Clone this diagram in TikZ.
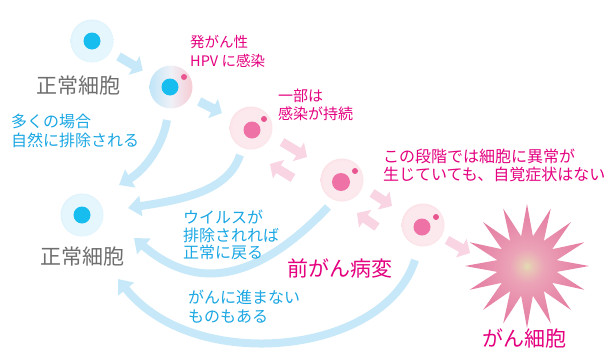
\documentclass[tikz,border=0pt]{standalone}
\usepackage{fontspec}
\setmainfont{Noto Sans CJK JP}
\usetikzlibrary{arrows.meta,shapes.geometric,calc}

\definecolor{txtmag}{HTML}{E4007F}
\definecolor{txtblue}{HTML}{1AA7E3}
\definecolor{txtgray}{HTML}{6E6E6E}
\definecolor{flowblue}{HTML}{C7E8F8}
\definecolor{flowpink}{HTML}{F9D4E3}
\definecolor{nucblue}{HTML}{17BDEF}
\definecolor{nucpink}{HTML}{EE72A6}
\definecolor{dotpink}{HTML}{E8558F}
\definecolor{blueA}{HTML}{E6F6FD}
\definecolor{blueB}{HTML}{C0E5F8}
\definecolor{blueC}{HTML}{CBEAF9}
\definecolor{pinkA}{HTML}{FCE9ED}
\definecolor{pinkB}{HTML}{F7C2CC}
\definecolor{pinkC}{HTML}{F6CBD4}
\definecolor{starA}{HTML}{E2DDB2}
\definecolor{starB}{HTML}{E8C6B6}
\definecolor{starC}{HTML}{EBA3B7}
\definecolor{starD}{HTML}{E88FAD}
\definecolor{starE}{HTML}{E26C98}

% soft-edged cell bodies
\pgfdeclareradialshading{healthycell}{\pgfpoint{0bp}{0bp}}{%
  color(0bp)=(blueA); color(22bp)=(blueA); color(40bp)=(blueB);
  color(46bp)=(blueC); color(50bp)=(white); color(72bp)=(white)}
\pgfdeclareradialshading{lesioncell}{\pgfpoint{0bp}{0bp}}{%
  color(0bp)=(pinkA); color(22bp)=(pinkA); color(40bp)=(pinkB);
  color(46bp)=(pinkC); color(50bp)=(white); color(72bp)=(white)}
\pgfdeclareradialshading{tumour}{\pgfpoint{0bp}{0bp}}{%
  color(0bp)=(starA); color(2bp)=(starB); color(7bp)=(starC);
  color(15bp)=(starD); color(32bp)=(starE); color(72bp)=(starE)}

\tikzset{
  cellbody/.style={circle, minimum size=43pt, inner sep=0pt},
  flowarc/.style={flowblue, line width=8pt,
    -{Triangle[width=20pt,length=13pt]}},
  bluestep/.style={flowblue, line width=9pt,
    -{Triangle[width=21pt,length=10pt]}},
  pinkstep/.style={flowpink, line width=9pt,
    -{Triangle[width=21pt,length=10pt]}},
  label/.style={inner sep=0pt, anchor=west, align=left},
  bigtext/.style={inner sep=0pt, font=\fontsize{21}{24}\selectfont},
}

\begin{document}
\begin{tikzpicture}[x=1pt, y=-1pt]
\fill[white] (0,0) rectangle (608,351);
\path[use as bounding box] (0,0) rectangle (608,351);

% cells
\node[cellbody, shading=healthycell] (c1) at (92,41) {};
\node[cellbody, left color=blueB, right color=pinkC, middle color=blueA!60!pinkA] (c2) at (171,87) {};
\node[cellbody, shading=lesioncell] (c3) at (251,128) {};
\node[cellbody, shading=lesioncell] (c4) at (342,180) {};
\node[cellbody, shading=lesioncell] (c5) at (423,225) {};
\node[cellbody, shading=healthycell] (c6) at (82,215) {};
\node[star, star points=16, star point ratio=2.05, minimum size=124pt,
      inner sep=0pt, shading=tumour] (ca) at (527,266) {};

% return paths back to a normal cell
\draw[flowarc] ($(c2)+(-4,33)$) .. controls (163,145) and (145,170) .. ($(c6)+(37,-30)$);
\draw[flowarc] ($(c3)+(-11,27)$) .. controls (228,192) and (180,200) .. ($(c6)+(46,-7)$);
\draw[flowarc] ($(c4)+(-14,27)$) .. controls (248,291) and (189,285) .. ($(c6)+(52,23)$);
\draw[flowarc] ($(c5)+(-8,35)$) .. controls (385,355) and (195,375) .. ($(c6)+(36,64)$);

% nuclei and small inclusions
\fill[nucblue] (c1) circle (8.5pt);
\fill[nucblue] ($(c2)+(-1,0)$) circle (8.5pt);
\fill[dotpink] ($(c2)+(13,-10)$) circle (3pt);
\fill[nucpink] ($(c3)+(1,2)$) circle (8.5pt);
\fill[dotpink] ($(c3)+(13,-9)$) circle (3pt);
\fill[nucpink] ($(c4)+(-1,2)$) circle (9pt);
\fill[dotpink] ($(c4)+(13,-9)$) circle (3pt);
\fill[nucpink] ($(c5)+(-1,2)$) circle (8.5pt);
\fill[dotpink] ($(c5)+(13,-8)$) circle (3pt);
\fill[nucblue] (c6) circle (8.5pt);

% progression steps
\draw[bluestep, shorten <=9pt, shorten >=11pt] (c1) -- (c2);
\draw[bluestep, shorten <=10pt, shorten >=11pt] (c2) -- (c3);
\draw[pinkstep] ($(c3)+(31,14)$) -- ($(c3)+(56,29)$);
\draw[pinkstep] ($(c4)+(-49,-2)$) -- ($(c4)+(-72,-16)$);
\draw[pinkstep] ($(c4)+(30,13)$) -- ($(c4)+(50,26)$);
\draw[pinkstep] ($(c5)+(-46,2)$) -- ($(c5)+(-66,-12)$);
\draw[pinkstep] ($(c5)+(24,15)$) -- ($(c5)+(47,28)$);

% labels
\node[bigtext, text=txtgray] (n1) at (78,86) {正常細胞};
\node[bigtext, text=txtgray] (n2) at (82,257) {正常細胞};
\node[bigtext, text=txtmag] (n3) at (524,338) {がん細胞};
\node[bigtext, text=txtmag, anchor=west] (n4) at (287,268) {前がん病変};
\node[label, text=txtmag, font=\fontsize{14.5}{19}\selectfont] (l1) at (190,51) {発がん性\\HPV に感染};
\node[label, text=txtmag, font=\fontsize{15}{18.5}\selectfont] (l2) at (278,105) {一部は\\感染が持続};
\node[label, text=txtmag, font=\fontsize{16}{18}\selectfont] (l3) at (383,165) {この段階では細胞に異常が\\生じていても、自覚症状はない};
\node[label, text=txtblue, font=\fontsize{16}{18.5}\selectfont] (l4) at (11,131) {多くの場合\\自然に排除される};
\node[label, text=txtblue, font=\fontsize{16}{17.5}\selectfont] (l5) at (183,235) {ウイルスが\\排除されれば\\正常に戻る};
\node[label, text=txtblue, font=\fontsize{16}{19}\selectfont] (l6) at (188,307) {がんに進まない\\ものもある};
\end{tikzpicture}
\end{document}
